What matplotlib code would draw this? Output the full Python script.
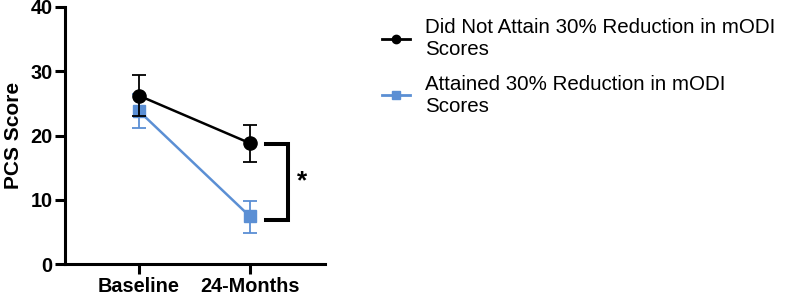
import matplotlib
matplotlib.use("Agg")
import matplotlib.pyplot as plt
from matplotlib.lines import Line2D

plt.rcParams['font.family'] = ['Liberation Sans', 'DejaVu Sans']

categories = ["Baseline", "24-Months"]
not_attained = [26.2, 18.8]
not_attained_lo = [23.1, 15.9]
not_attained_hi = [29.4, 21.6]
attained = [23.8, 7.4]
attained_lo = [21.1, 4.9]
attained_hi = [26.5, 9.8]
labels = ["Did Not Attain 30% Reduction in mODI\nScores",
          "Attained 30% Reduction in mODI\nScores"]
bracket_y = [18.7, 6.9]
yticks = [0, 10, 20, 30, 40]

black = "#000000"
blue = "#5b8fd4"

fig = plt.figure(figsize=(7.85, 2.96), dpi=100)
ax = fig.add_axes([65/785, 1-264/296, (325-65)/785, (264-7)/296])

x = list(range(len(categories)))

def err(vals, lo, hi):
    return [[v - l for v, l in zip(vals, lo)], [h - v for v, h in zip(vals, hi)]]

ax.errorbar(x, attained, yerr=err(attained, attained_lo, attained_hi), color=blue,
            marker='s', markersize=8, linewidth=1.8, elinewidth=1.3, capsize=5, capthick=1.3, zorder=3)
ax.errorbar(x, not_attained, yerr=err(not_attained, not_attained_lo, not_attained_hi), color=black,
            marker='o', markersize=9.5, linewidth=1.8, elinewidth=1.3, capsize=5, capthick=1.3, zorder=4)

# significance bracket
bx0, bx1 = 1.14, 1.34
ax.plot([bx0, bx1, bx1, bx0], [bracket_y[0], bracket_y[0], bracket_y[1], bracket_y[1]],
        color=black, linewidth=2.9, clip_on=False, solid_joinstyle='miter')
ax.text(1.47, (bracket_y[0] + bracket_y[1]) / 2, "*", fontsize=19, fontweight='bold',
        ha='center', va='center', clip_on=False)

ax.set_xlim(-0.667, 1.676)
ax.set_ylim(0, 40)
ax.set_xticks(x)
ax.set_xticklabels(categories, fontsize=14.3, fontweight='bold')
ax.set_yticks(yticks)
ax.set_yticklabels([str(t) for t in yticks], fontsize=14.3, fontweight='bold')
ax.set_ylabel("PCS Score", fontsize=15, fontweight='bold', labelpad=5)
for s in ['top', 'right']:
    ax.spines[s].set_visible(False)
for s in ['left', 'bottom']:
    ax.spines[s].set_linewidth(2.2)
ax.tick_params(axis='both', width=2.2, length=7, direction='out', pad=2)

handles = [Line2D([], [], color=black, marker='o', markersize=6, linewidth=2),
           Line2D([], [], color=blue, marker='s', markersize=6, linewidth=2)]
fig.legend(handles, labels, loc='upper left', bbox_to_anchor=(374/785, 1-10/296),
           frameon=False, fontsize=14.8, handlelength=1.34, handletextpad=0.75,
           labelspacing=0.75, borderaxespad=0)

fig.savefig("out.png", dpi=100)
